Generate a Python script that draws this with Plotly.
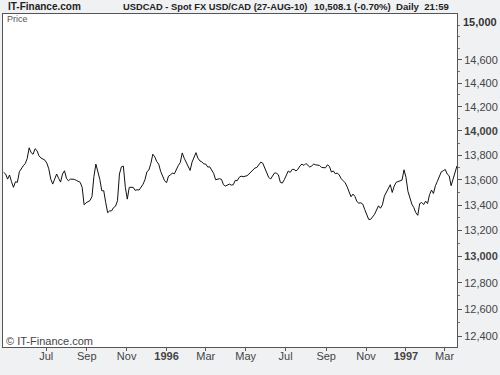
import numpy as np
import pandas as pd
import plotly.graph_objects as go

# ---- data (USD/CAD x 10000), sampled every 3 calendar days ----
start_date = "1995-04-27"
prices = [
    13661, 13648, 13607, 13640, 13586, 13541, 13586, 13581, 13666, 13696,
    13714, 13733, 13773, 13861, 13821, 13808, 13853, 13837, 13795, 13778,
    13768, 13760, 13736, 13690, 13607, 13567, 13607, 13648, 13613, 13583,
    13648, 13674, 13613, 13594, 13607, 13607, 13605, 13597, 13589, 13581,
    13541, 13402, 13418, 13428, 13436, 13468, 13629, 13728, 13669, 13605,
    13514, 13514, 13420, 13340, 13354, 13354, 13380, 13391, 13434, 13648,
    13706, 13712, 13541, 13447, 13541, 13538, 13541, 13517, 13522, 13519,
    13538, 13565, 13602, 13666, 13680, 13733, 13808, 13787, 13749, 13728,
    13669, 13637, 13594, 13578, 13631, 13640, 13656, 13650, 13690, 13717,
    13741, 13819, 13776, 13741, 13720, 13677, 13744, 13787, 13821, 13776,
    13754, 13746, 13730, 13728, 13704, 13706, 13677, 13653, 13602, 13607,
    13610, 13605, 13562, 13551, 13562, 13567, 13559, 13562, 13597, 13594,
    13621, 13631, 13626, 13631, 13634, 13648, 13664, 13680, 13696, 13701,
    13728, 13744, 13736, 13693, 13658, 13623, 13607, 13631, 13656, 13656,
    13640, 13581, 13575, 13602, 13634, 13672, 13661, 13685, 13685, 13672,
    13688, 13714, 13728, 13717, 13733, 13722, 13704, 13714, 13728, 13722,
    13722, 13717, 13701, 13698, 13698, 13722, 13709, 13664, 13672, 13650,
    13656, 13640, 13610, 13594, 13578, 13546, 13498, 13466, 13487, 13468,
    13428, 13415, 13418, 13407, 13364, 13327, 13287, 13287, 13303, 13327,
    13361, 13394, 13375, 13402, 13471, 13506, 13535, 13562, 13500, 13551,
    13581, 13586, 13589, 13599, 13682, 13621, 13509, 13455, 13407, 13380,
    13340, 13319, 13412, 13420, 13404, 13431, 13412, 13482, 13519, 13492,
    13554, 13589, 13629, 13666, 13674, 13685, 13648, 13634, 13554, 13607,
    13674, 13714,
]
dates = pd.date_range(start_date, periods=len(prices), freq="3D")

x_tick_dates = ["1995-07-01", "1995-09-01", "1995-11-01", "1996-01-01", "1996-03-01",
                "1996-05-01", "1996-07-01", "1996-09-01", "1996-11-01", "1997-01-01",
                "1997-03-01"]
x_tick_text = ["Jul", "Sep", "Nov", "<b>1996</b>", "Mar", "May", "Jul", "Sep", "Nov",
               "<b>1997</b>", "Mar"]

y_tick_vals = [14600, 14400, 14200, 14000, 13800, 13600, 13400, 13200, 13000,
               12800, 12600, 12400]
y_tick_text = ["14,600", "14,400", "14,200", "<b>14,000</b>", "13,800", "13,600",
               "13,400", "13,200", "<b>13,000</b>", "12,800", "12,600", "12,400"]
y_minor_vals = [14900, 14800, 14700, 14500, 14300, 14100, 13900, 13700, 13500,
                13300, 13100, 12900, 12700, 12500, 12300]
y_range = [12323, 15000]
x_range = ["1995-04-26", "1997-03-20"]

FONT = "Liberation Sans, Arial, sans-serif"

fig = go.Figure()
fig.add_trace(go.Scatter(x=dates, y=prices, mode="lines",
                         line=dict(color="#111111", width=1), hoverinfo="skip"))

fig.update_layout(
    width=500, height=375,
    margin=dict(l=2, r=41, t=14, b=28),
    paper_bgcolor="#F0F1F3",
    plot_bgcolor="#FFFFFF",
    showlegend=False,
    font=dict(family=FONT, size=11, color="#333333"),
    xaxis=dict(
        range=x_range, showgrid=False, zeroline=False,
        showline=True, linecolor="#555555", linewidth=1, mirror=True,
        tickmode="array", tickvals=x_tick_dates, ticktext=x_tick_text,
        ticks="outside", ticklen=3, tickcolor="#555555",
        ticklabelstandoff=-4,
        tickfont=dict(family=FONT, size=11, color="#444444"),
    ),
    yaxis=dict(
        type="log", range=[np.log10(y_range[0]), np.log10(y_range[1])],
        side="right", showgrid=False, zeroline=False,
        showline=True, linecolor="#555555", linewidth=1, mirror=True,
        tickmode="array", tickvals=y_tick_vals, ticktext=y_tick_text,
        ticks="outside", ticklen=4, tickcolor="#555555",
        tickfont=dict(family=FONT, size=11, color="#444444"),
        minor=dict(tickmode="array", tickvals=y_minor_vals, ticks="outside",
                   ticklen=2, tickcolor="#777777", showgrid=False),
    ),
)

def px_x(p):
    return (p - 2) / 457.0

def px_y(p):
    return (347 - p) / 333.0

anns = [
    dict(text="<b>IT-Finance.com</b>", x=px_x(5), y=px_y(7), size=10, color="#222222"),
    dict(text="<b>USDCAD - Spot FX USD/CAD (27-AUG-10)</b>", x=px_x(121), y=px_y(7), size=9.3, color="#222222"),
    dict(text="<b>10,508.1 (-0.70%)</b>", x=px_x(313), y=px_y(7), size=9.6, color="#222222"),
    dict(text="<b>Daily  21:59</b>", x=px_x(396), y=px_y(7), size=9.6, color="#222222"),
    dict(text="Price", x=px_x(4), y=px_y(19), size=9, color="#555555"),
    dict(text="© IT-Finance.com", x=px_x(3), y=px_y(341), size=11, color="#444444"),
]
for a in anns:
    fig.add_annotation(text=a["text"], xref="paper", yref="paper", x=a["x"], y=a["y"],
                       xanchor="left", yanchor="middle", showarrow=False,
                       font=dict(family=FONT, size=a["size"], color=a["color"]))

fig.add_annotation(text="<b>15,000</b>", xref="paper", yref="paper", x=1, y=1,
                   xanchor="left", yanchor="top", xshift=4, yshift=0, showarrow=False,
                   font=dict(family=FONT, size=11, color="#333333"))

fig.write_html("out.html")
